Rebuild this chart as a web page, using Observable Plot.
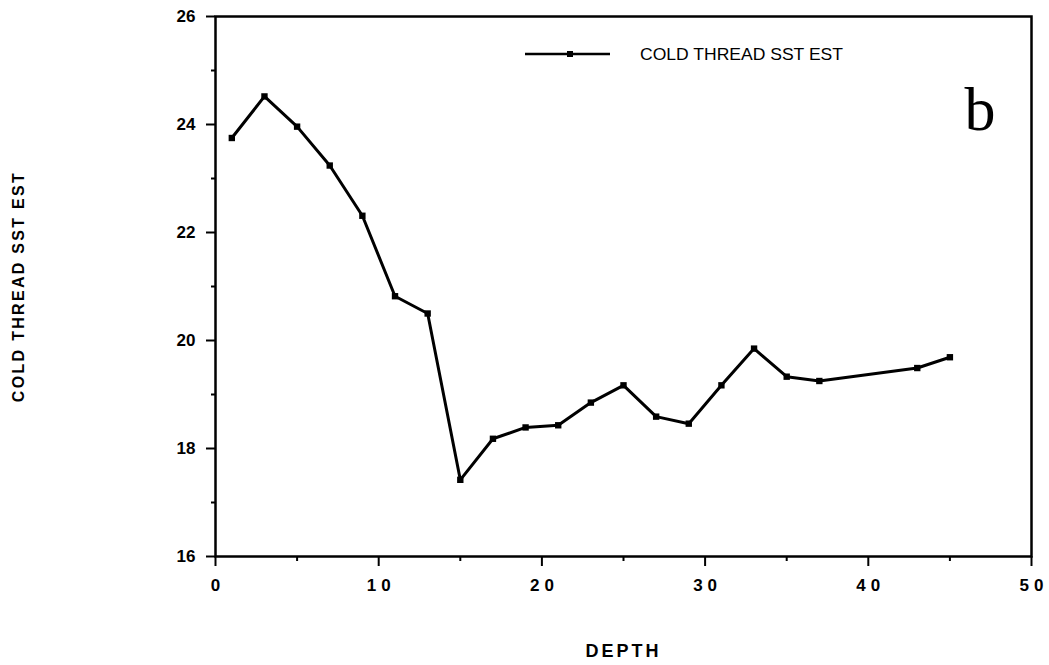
<!DOCTYPE html>
<html>
<head>
<meta charset="utf-8">
<script src="https://cdn.jsdelivr.net/npm/d3@7"></script>
<script src="https://cdn.jsdelivr.net/npm/@observablehq/plot@0.6"></script>
<style>
  html, body { margin: 0; padding: 0; background: #fff; }
  #wrap { position: relative; width: 1049px; height: 665px; }
  #legend { position: absolute; left: 522px; top: 42px; }
</style>
</head>
<body>
<div id="wrap"></div>
<script>
const depth = [1, 3, 5, 7, 9, 11, 13, 15, 17, 19, 21, 23, 25, 27, 29, 31, 33, 35, 37, 43, 45];
const sst = [23.75, 24.52, 23.96, 23.24, 22.31, 20.82, 20.5, 17.42, 18.18, 18.39, 18.43, 18.85, 19.17, 18.59, 18.46, 19.17, 19.85, 19.33, 19.25, 19.49, 19.69];
const seriesName = "COLD THREAD SST EST";
const xLabel = "DEPTH";
const yLabel = "COLD THREAD SST EST";
const panelLetter = "b";
const xMajor = [0, 10, 20, 30, 40, 50];
const xMinor = [5, 15, 25, 35, 45];
const yMajor = [16, 18, 20, 22, 24, 26];
const yMinor = [17, 19, 21, 23, 25];

const data = depth.map((d, i) => ({depth: d, sst: sst[i]}));
const font = "'Liberation Sans', Arial, sans-serif";

const chart = Plot.plot({
  width: 1049,
  height: 665,
  marginLeft: 215,
  marginRight: 18,
  marginTop: 16,
  marginBottom: 109,
  style: {fontFamily: font, background: "#fff", color: "#000"},
  x: {domain: [0, 50]},
  y: {domain: [16, 26]},
  marks: [
    Plot.axisY({ticks: yMinor, tickSize: 4, tickFormat: () => "", label: null, strokeWidth: 2}),
    Plot.axisY({ticks: yMajor, tickSize: 9, tickPadding: 11, tickFormat: d => String(d),
      label: yLabel, labelAnchor: "center", labelArrow: "none", labelOffset: 203, strokeWidth: 2}),
    Plot.axisX({ticks: xMinor, tickSize: 5, tickFormat: () => "", label: null, strokeWidth: 2}),
    Plot.axisX({ticks: xMajor, tickSize: 10, tickPadding: 12, tickFormat: d => String(d),
      label: xLabel, labelAnchor: "center", labelArrow: "none", labelOffset: 100, strokeWidth: 2}),
    Plot.frame({stroke: "#000", strokeWidth: 2.5}),
    Plot.line(data, {x: "depth", y: "sst", stroke: "#000", strokeWidth: 3}),
    Plot.dot(data, {x: "depth", y: "sst", symbol: "square", r: 3.6, fill: "#000", stroke: "none"}),
    Plot.text([panelLetter], {frameAnchor: "top-right", text: d => d, dx: -36, dy: 69, fontSize: 62,
      fontFamily: "'Liberation Serif', 'DejaVu Serif', serif", fill: "#000"})
  ]
});

const sel = d3.select(chart);
sel.selectAll("[aria-label='y-axis tick label'] text, [aria-label='x-axis tick label'] text")
  .style("font-size", "17px").style("font-weight", "bold");
sel.selectAll("[aria-label='x-axis tick label'] text")
  .style("letter-spacing", "5px").attr("dx", "2.5");
sel.selectAll("[aria-label='x-axis label'] text")
  .style("font-weight", "bold").style("font-size", "18px").style("letter-spacing", "3px");
sel.selectAll("[aria-label='y-axis label'] text")
  .style("font-weight", "bold").style("font-size", "16px").style("letter-spacing", "2.3px");

const wrap = document.getElementById("wrap");
wrap.appendChild(chart);

// legend
const leg = d3.create("svg").attr("id", "legend").attr("width", 340).attr("height", 26);
leg.append("line").attr("x1", 3).attr("x2", 88).attr("y1", 12).attr("y2", 12).attr("stroke", "#000").attr("stroke-width", 2.6);
leg.append("rect").attr("x", 45).attr("y", 9).attr("width", 6).attr("height", 6).attr("fill", "#000");
leg.append("text").attr("x", 118).attr("y", 18).attr("font-family", font).attr("font-size", 17)
  .attr("textLength", 203).attr("lengthAdjust", "spacingAndGlyphs").attr("fill", "#000").text(seriesName);
wrap.appendChild(leg.node());
</script>
</body>
</html>
